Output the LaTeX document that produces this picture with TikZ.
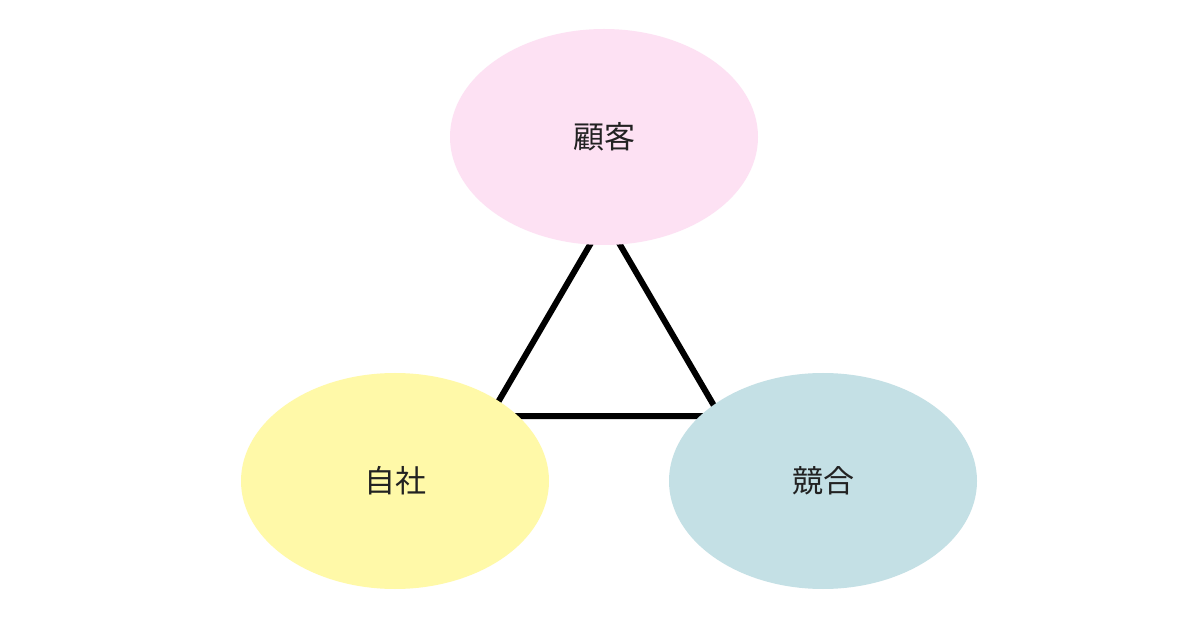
\documentclass[tikz,border=0pt]{standalone}
\usepackage{fontspec}
\setmainfont{Noto Sans CJK JP}
\usetikzlibrary{shapes.geometric}
\definecolor{pinkfill}{RGB}{253,225,243}
\definecolor{yellowfill}{RGB}{255,249,168}
\definecolor{bluefill}{RGB}{196,224,229}
\definecolor{textcol}{RGB}{34,34,34}
\tikzset{
  blob/.style={ellipse, minimum width=308pt, minimum height=216pt, inner sep=0pt,
    text=textcol, font=\fontsize{31}{36}\selectfont},
  edge/.style={line width=6pt, black}
}
\begin{document}
\begin{tikzpicture}[x=1pt,y=-1pt]
\useasboundingbox (0,0) rectangle (1200,628);
\fill[white] (0,0) rectangle (1200,628);
\coordinate (vt) at (605,219);
\coordinate (vl) at (490,416);
\coordinate (vr) at (720,416);
\draw[edge] (vt) -- (vl) -- (vr) -- cycle;
\node[blob, fill=pinkfill] (kokyaku) at (604,137) {顧客};
\node[blob, fill=yellowfill] (jisha) at (395,481) {自社};
\node[blob, fill=bluefill] (kyougou) at (823,481) {競合};
\end{tikzpicture}
\end{document}
